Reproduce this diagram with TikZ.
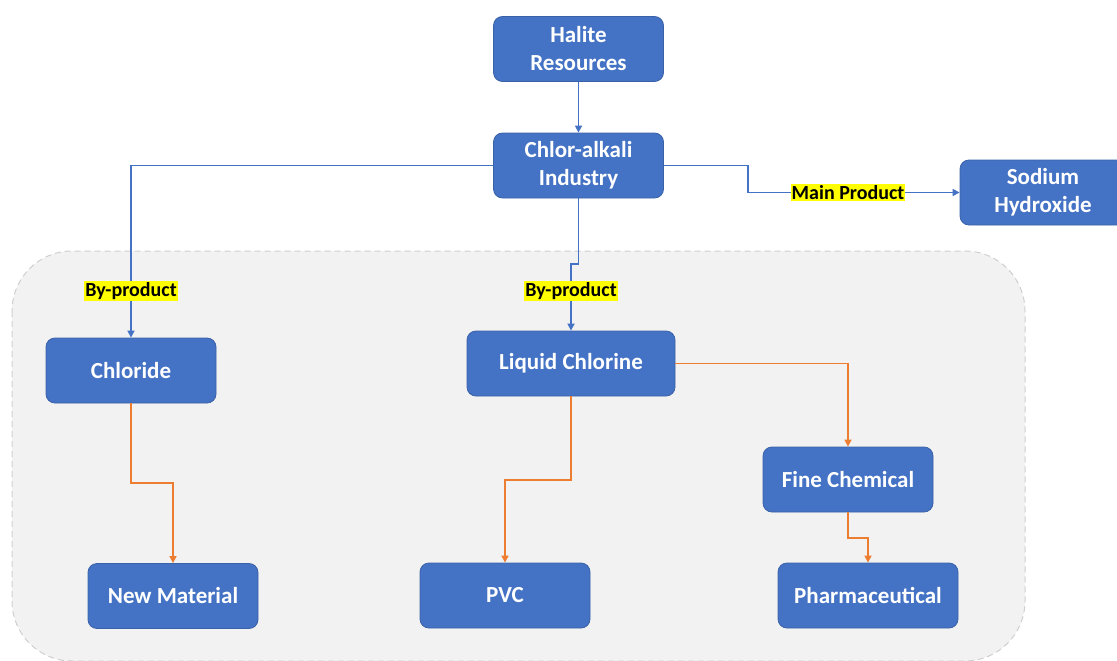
\documentclass[tikz,border=0pt]{standalone}
\usepackage{fontspec}
\setmainfont{Carlito}
\usetikzlibrary{arrows.meta}
\definecolor{boxblue}{HTML}{4472C4}
\definecolor{boxedge}{HTML}{3A62A8}
\definecolor{flowblue}{HTML}{4472C4}
\definecolor{floworange}{HTML}{ED7D31}
\definecolor{groupfill}{HTML}{F2F2F2}
\definecolor{groupedge}{HTML}{CFCFCF}
\definecolor{hilite}{HTML}{FFFF00}
\tikzset{
  stagebox/.style={draw=boxedge, line width=0.8pt, fill=boxblue, rounded corners=9pt,
    minimum width=170pt, minimum height=65pt, text=white, align=center,
    font=\fontsize{23}{28}\selectfont\bfseries, inner sep=2pt},
  tag/.style={fill=hilite, text=black, inner sep=1pt,
    font=\fontsize{20}{22}\selectfont\bfseries},
  blueflow/.style={draw=flowblue, line width=1.6pt, -{Triangle[width=7pt,length=7pt]}},
  orangeflow/.style={draw=floworange, line width=1.6pt, -{Triangle[width=7pt,length=7pt]}},
}
\begin{document}
\begin{tikzpicture}[x=1pt,y=-1pt]
\useasboundingbox (0,0) rectangle (1117,661);
% shaded group around the downstream products
\draw[groupedge, fill=groupfill, dashed, line width=1pt, dash pattern=on 6pt off 4pt,
      rounded corners=60pt] (12,251) rectangle (1025,661);

% nodes
\node[stagebox] (halite) at (578.5,49) {Halite\\Resources};
\node[stagebox] (chlor)  at (578.5,165.5) {Chlor-alkali\\Industry};
\node[stagebox, minimum width=166pt] (naoh) at (1043,192.5) {Sodium\\Hydroxide};
\node[stagebox] (chloride) at (131,370.5) {Chloride};
\node[stagebox, minimum width=208pt] (cl2) at (571,363.5) {Liquid Chlorine};
\node[stagebox] (fine) at (848,479.5) {Fine Chemical};
\node[stagebox] (newmat) at (173,596) {New Material};
\node[stagebox] (pvc) at (505,595.5) {PVC};
\node[stagebox, minimum width=180pt] (pharma) at (868,595.5) {Pharmaceutical};

% main chain
\draw[blueflow] (halite.south) -- (chlor.north);
\draw[blueflow] (chlor.west) -- (131,165.5) -- (chloride.north);
\draw[blueflow] (chlor.east) -- (748,165.5) -- (748,192.5) -- (naoh.west);
\draw[blueflow] (chlor.south) -- (578.5,264) -- (571,264) -- (cl2.north);

% labels on connectors
\node[tag] (bp1) at (131,291) {By-product};
\node[tag] (bp2) at (571,291) {By-product};
\node[tag] (mp)  at (848,192.5) {Main Product};

% downstream products
\draw[orangeflow] (chloride.south) -- (131,483) -- (173,483) -- (newmat.north);
\draw[orangeflow] (cl2.south) -- (571,480) -- (505,480) -- (pvc.north);
\draw[orangeflow] (cl2.east) -- (848,363.5) -- (fine.north);
\draw[orangeflow] (fine.south) -- (848,538) -- (868,538) -- (pharma.north);
\end{tikzpicture}
\end{document}
